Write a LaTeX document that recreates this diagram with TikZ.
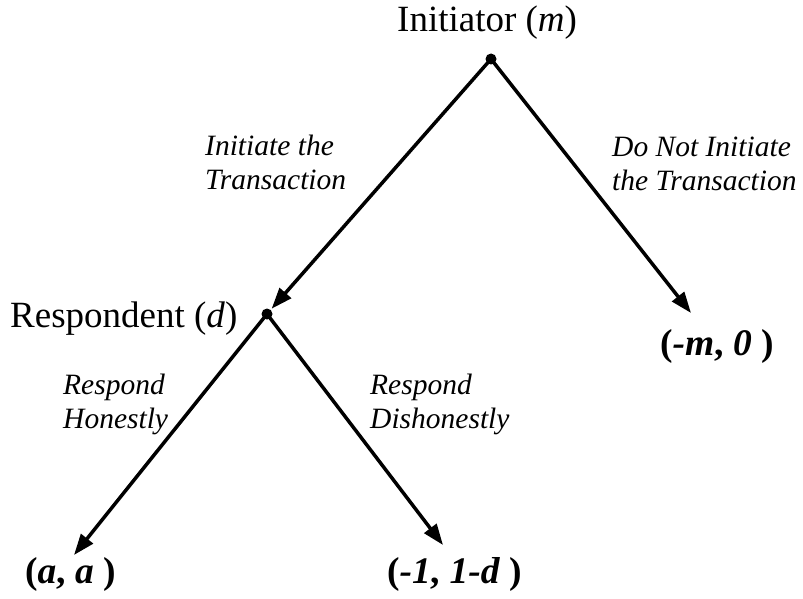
\documentclass[tikz,border=0pt]{standalone}
\usepackage{fontspec}
\setmainfont{Liberation Serif}
\usetikzlibrary{arrows.meta}
\begin{document}
\begin{tikzpicture}[x=1pt,y=-1pt,
  branch/.style={line width=3.5pt,-{Triangle[length=21pt,width=15pt]}},
  dotnode/.style={circle,fill=black,inner sep=0pt,minimum size=11pt},
  player/.style={anchor=base west,inner sep=0pt,font=\fontsize{37}{40}\selectfont},
  move/.style={anchor=north west,inner sep=0pt,align=left,font=\fontsize{29.5}{34}\selectfont\itshape},
  payoff/.style={anchor=base west,inner sep=0pt,font=\fontsize{37.5}{40}\selectfont\bfseries}]
\useasboundingbox[fill=white] (0,0) rectangle (803,599);
\node[dotnode] (top) at (491,59) {};
\node[dotnode] (resp) at (267,314) {};
\coordinate (tipR) at (691,313);
\coordinate (tipLL) at (74,555);
\coordinate (tipLR) at (443,545);
\draw[branch,shorten >=7pt] (top.center) -- (resp.center);
\draw[branch] (top.center) -- (tipR);
\draw[branch] (resp.center) -- (tipLL);
\draw[branch] (resp.center) -- (tipLR);
\node[player] (ini) at (397,32) {Initiator (\textit{m})};
\node[player] (res) at (10,327) {Respondent (\textit{d})};
\node[move] (m1) at (205,135) {Initiate the\\Transaction};
\node[move] (m2) at (612,137) {Do Not Initiate\\the Transaction};
\node[move] (m3) at (63,374) {Respond\\Honestly};
\node[move] (m4) at (370,374) {Respond\\Dishonestly};
\node[payoff] (p1) at (660,355) {(\textit{-m}, \textit{0} )};
\node[payoff] (p2) at (25,583) {(\textit{a}, \textit{a} )};
\node[payoff] (p3) at (387,583) {(\textit{-1}, \textit{1-d} )};
\end{tikzpicture}
\end{document}
